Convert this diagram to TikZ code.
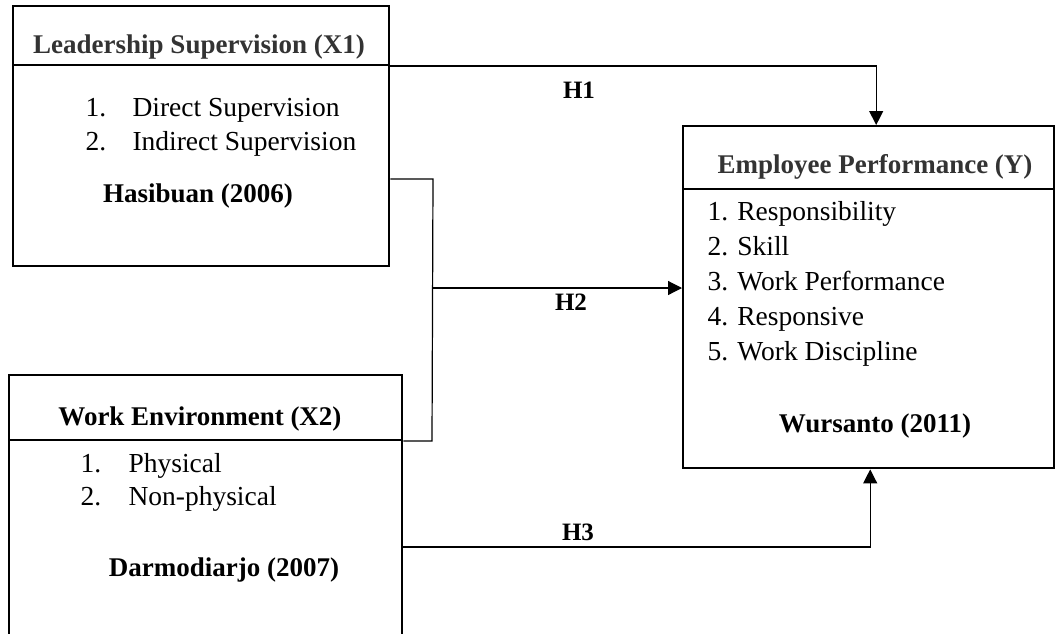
\documentclass[tikz,border=0pt]{standalone}
\usepackage{fontspec}
\setmainfont{Liberation Serif}
\usetikzlibrary{arrows.meta}
\definecolor{hdrgray}{HTML}{333333}
\begin{document}
\begin{tikzpicture}[x=1pt,y=-1pt,
  box/.style={draw, line width=2.4pt, anchor=north west, inner sep=0pt},
  conn/.style={line width=1.2pt},
  arr/.style={conn, -{Triangle[length=14pt,width=14pt]}},
  hdr/.style={font=\fontsize{27}{30}\selectfont\bfseries, text=hdrgray, anchor=base},
  body/.style={font=\fontsize{27.5}{30}\selectfont, anchor=base west},
  ref/.style={font=\fontsize{27}{30}\selectfont\bfseries, anchor=base},
  hlab/.style={font=\fontsize{25}{28}\selectfont\bfseries, anchor=base},
  sep/.style={line width=1.5pt}]
\clip (0,0) rectangle (1055,633);
% boxes
\node[box, minimum width=376pt, minimum height=260pt] (x1) at (12,5) {};
\node[box, minimum width=393pt, minimum height=330pt] (x2) at (8,374) {};
\node[box, minimum width=371pt, minimum height=342pt] (y) at (682,125) {};
% header separators
\draw[sep] ([yshift=-60pt]x1.north west) -- ([yshift=-60pt]x1.north east);
\draw[sep] ([yshift=-66pt]x2.north west) -- ([yshift=-66pt]x2.north east);
\draw[sep] ([yshift=-64pt]y.north west) -- ([yshift=-64pt]y.north east);
% connectors
\coordinate (j1) at (433,179);
\coordinate (j2) at (432,441);
\coordinate (j3) at (432,288);
\draw[arr] ([yshift=-61pt]x1.north east) -| ([xshift=7.5pt]y.north);
\draw[conn] ([yshift=-174pt]x1.north east) -- (j1) -- (j2) -- ([yshift=-67pt]x2.north east);
\draw[arr] (j3) -- (j3 -| y.west);
\draw[arr] ([yshift=-173pt]x2.north east) -| ([xshift=1.5pt]y.south);
% labels
\node[hlab] (h1) at (579,98) {H1};
\node[hlab] (h2) at (571,310) {H2};
\node[hlab] (h3) at (578,540) {H3};
% X1 texts
\node[hdr] (t1) at (199,53) {Leadership Supervision (X1)};
\node[body] (a1n) at (82,116) {1.};
\node[body] (a1) at (129,116) {Direct Supervision};
\node[body] (a2n) at (82,150) {2.};
\node[body] (a2) at (129,150) {Indirect Supervision};
\node[ref] (r1) at (198,202) {Hasibuan (2006)};
% X2 texts
\node[hdr, text=black] (t2) at (200,425) {Work Environment (X2)};
\node[body] (b1n) at (77,472) {1.};
\node[body] (b1) at (125,472) {Physical};
\node[body] (b2n) at (77,505) {2.};
\node[body] (b2) at (125,505) {Non-physical};
\node[ref] (r2) at (224,576) {Darmodiarjo (2007)};
% Y texts
\node[hdr] (t3) at (875,173) {Employee Performance (Y)};
\node[body] (c1) at (704,220) {1. Responsibility};
\node[body] (c2) at (704,255) {2. Skill};
\node[body] (c3) at (704,290) {3. Work Performance};
\node[body] (c4) at (704,325) {4. Responsive};
\node[body] (c5) at (704,360) {5. Work Discipline};
\node[ref] (r3) at (875,432) {Wursanto (2011)};
\end{tikzpicture}
\end{document}
